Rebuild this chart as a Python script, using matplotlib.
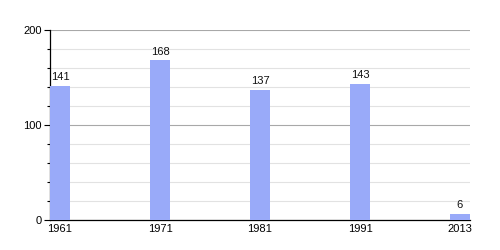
import matplotlib
matplotlib.use("Agg")
import matplotlib.pyplot as plt
from matplotlib.ticker import MultipleLocator

plt.rcParams["font.family"] = ["Liberation Sans", "DejaVu Sans"]

years = ["1961", "1971", "1981", "1991", "2013"]
values = [141, 168, 137, 143, 6]

fig = plt.figure(figsize=(5, 2.5), dpi=100)
ax = fig.add_axes([0.1, 0.12, 0.84, 0.76])

x = list(range(len(years)))
ax.bar(x, values, width=0.2, align="edge", color="#99aaf9", zorder=3)
for xi, v in zip(x, values):
    ax.text(xi + 0.1, v + 4, str(v), ha="center", va="bottom", fontsize=8, color="#111111")

ax.set_xlim(0, 4.2)
ax.set_ylim(0, 200)
ax.set_xticks([xi + 0.1 for xi in x])
ax.set_xticklabels(years)
ax.yaxis.set_major_locator(MultipleLocator(100))
ax.yaxis.set_minor_locator(MultipleLocator(20))
ax.grid(axis="y", which="minor", color="#e2e2e2", linewidth=0.8, zorder=0)
ax.grid(axis="y", which="major", color="#a8a8a8", linewidth=0.8, zorder=1)

for s in ["top", "right"]:
    ax.spines[s].set_visible(False)
ax.spines["left"].set_color("black")
ax.spines["bottom"].set_color("black")
ax.spines["left"].set_linewidth(0.9)
ax.spines["bottom"].set_linewidth(0.9)

ax.tick_params(axis="x", length=0, labelsize=8, pad=3)
ax.tick_params(axis="y", which="major", length=4, width=0.8, labelsize=8, pad=2)
ax.tick_params(axis="y", which="minor", length=2.5, width=0.8)

fig.savefig("out.png", dpi=100)
